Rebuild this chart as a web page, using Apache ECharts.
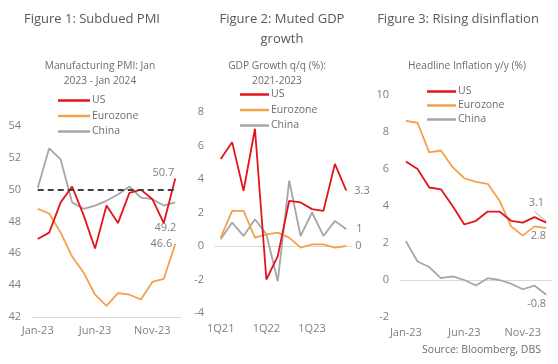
<!DOCTYPE html>
<html><head><meta charset="utf-8">
<script src="https://cdn.jsdelivr.net/npm/echarts@6/dist/echarts.min.js"></script>
<style>html,body{margin:0;padding:0;background:#fff}#c{width:558px;height:364px}</style>
</head><body><div id="c"></div>
<script>
// ---- Figure 1: Manufacturing PMI ----
const pmiMonths = ['Jan-23','Feb-23','Mar-23','Apr-23','May-23','Jun-23','Jul-23','Aug-23','Sep-23','Oct-23','Nov-23','Dec-23','Jan-24'];
const pmiUS = [46.9,47.3,49.2,50.2,48.4,46.3,49.0,47.9,49.8,50.0,49.4,47.9,50.7];
const pmiEZ = [48.8,48.5,47.3,45.8,44.8,43.4,42.7,43.5,43.4,43.1,44.2,44.4,46.6];
const pmiCN = [50.1,52.6,51.9,49.2,48.8,49.0,49.3,49.7,50.2,49.5,49.4,49.0,49.2];
const pmiThreshold = 50;

// ---- Figure 2: GDP growth q/q ----
const gdpQuarters = ['1Q21','2Q21','3Q21','4Q21','1Q22','2Q22','3Q22','4Q22','1Q23','2Q23','3Q23','4Q23'];
const gdpUS = [5.2,6.2,3.3,7.0,-2.0,-0.6,2.7,2.6,2.2,2.1,4.9,3.3];
const gdpEZ = [0.5,2.1,2.1,0.5,0.7,0.8,0.5,-0.1,0.1,0.1,-0.1,0];
const gdpCN = [0.4,1.4,0.6,1.6,0.7,-2.1,3.9,0.6,2.0,0.6,1.5,1.0];

// ---- Figure 3: Headline inflation y/y ----
const cpiMonths = ['Jan-23','Feb-23','Mar-23','Apr-23','May-23','Jun-23','Jul-23','Aug-23','Sep-23','Oct-23','Nov-23','Dec-23','Jan-24'];
const cpiUS = [6.4,6.0,5.0,4.9,4.0,3.0,3.2,3.7,3.7,3.2,3.1,3.4,3.1];
const cpiEZ = [8.6,8.5,6.9,7.0,6.1,5.5,5.3,5.2,4.3,2.9,2.4,2.9,2.8];
const cpiCN = [2.1,1.0,0.7,0.1,0.2,0.0,-0.3,0.1,0.0,-0.2,-0.5,-0.3,-0.8];

const legendNames = ['US','Eurozone','China'];

const FONT = 'Open Sans';
const RED = '#e3141b', ORANGE = '#f5a04a', GREY = '#a6a6a6';
const colors = {US: RED, Eurozone: ORANGE, China: GREY};
const LABEL_GREY = '#7f7f7f';

function lastLabel(arr, labelCfg) {
  return arr.map((v, i) => i === arr.length - 1
    ? {value: v, label: Object.assign({show: true, color: LABEL_GREY, fontSize: 11, fontFamily: FONT}, labelCfg)}
    : v);
}
function lineSeries(name, arr, idx, labelCfg, extra) {
  return Object.assign({
    type: 'line', name: name, xAxisIndex: idx, yAxisIndex: idx,
    data: lastLabel(arr, labelCfg), showSymbol: true, symbol: 'circle', symbolSize: 0.01,
    label: {show: false},
    lineStyle: {color: colors[name], width: 1.8}, itemStyle: {color: colors[name]},
    animation: false, silent: true
  }, extra || {});
}

const titleStyle = {fontFamily: FONT, fontSize: 13, color: '#595959', fontWeight: 'normal', lineHeight: 20};
const subStyle = {fontFamily: FONT, fontSize: 10.2, color: '#6d6d6d', fontWeight: 'normal', lineHeight: 15};

function yAx(idx, min, max) {
  return {type: 'value', gridIndex: idx, min: min, max: max, interval: 2,
    splitLine: {show: false}, axisLine: {show: false}, axisTick: {show: false},
    axisLabel: {color: LABEL_GREY, fontSize: 11, fontFamily: FONT, margin: 11}};
}
function legendAt(left, top, gap, w) {
  return {orient: 'vertical', left: left, top: top, data: legendNames, icon: 'rect',
    itemWidth: w, itemHeight: 2.5, itemGap: gap, padding: 0, selectedMode: false,
    textStyle: {fontFamily: FONT, fontSize: 10.5, color: '#6d6d6d', padding: [0,0,0,-3], lineHeight: 13}};
}

const lastIdx = cpiMonths.length - 1;

const option = {
  animation: false,
  title: [
    {text: 'Figure 1: Subdued PMI', left: 92, top: 9, textAlign: 'center', padding: 0, textStyle: titleStyle},
    {text: 'Figure 2: Muted GDP\ngrowth', left: 282, top: 9, textAlign: 'center', padding: 0, textStyle: titleStyle},
    {text: 'Figure 3: Rising disinflation', left: 458, top: 9, textAlign: 'center', padding: 0, textStyle: titleStyle},
    {text: 'Manufacturing PMI: Jan\n2023 - Jan 2024', left: 100, top: 59, textAlign: 'center', padding: 0, textStyle: subStyle},
    {text: 'GDP Growth q/q (%):\n2021-2023', left: 277, top: 59, textAlign: 'center', padding: 0, textStyle: subStyle},
    {text: 'Headline Inflation y/y (%)', left: 467, top: 59, textAlign: 'center', padding: 0, textStyle: subStyle},
    {text: 'Source: Bloomberg, DBS', right: 17, top: 345, padding: 0,
      textStyle: {fontFamily: FONT, fontSize: 10.5, color: '#6d6d6d', fontWeight: 'normal'}}
  ],
  legend: [legendAt(58, 94, 2.5, 32), legendAt(240, 88, 2.5, 29), legendAt(427, 85, 1, 29)],
  grid: [
    {left: 32, top: 126, width: 149, height: 191},
    {left: 215, top: 112, width: 137, height: 201},
    {left: 400, top: 95, width: 152, height: 222}
  ],
  xAxis: [
    {type: 'category', gridIndex: 0, data: pmiMonths, boundaryGap: true,
      axisLine: {lineStyle: {color: '#d9d9d9'}},
      axisTick: {interval: 4, inside: true, length: 3, lineStyle: {color: '#d9d9d9'}},
      axisLabel: {interval: 4, color: LABEL_GREY, fontSize: 11, fontFamily: FONT, margin: 8}},
    {type: 'category', gridIndex: 1, data: gdpQuarters, boundaryGap: true,
      axisLine: {show: false, onZero: false}, axisTick: {show: false},
      axisLabel: {interval: 3, color: LABEL_GREY, fontSize: 11, fontFamily: FONT, margin: 10}},
    {type: 'category', gridIndex: 2, data: cpiMonths, boundaryGap: true,
      axisLine: {show: false, onZero: false}, axisTick: {show: false},
      axisLabel: {interval: 4, color: LABEL_GREY, fontSize: 11, fontFamily: FONT, margin: 10}},
    {type: 'category', gridIndex: 1, data: gdpQuarters, boundaryGap: true, position: 'bottom',
      axisLine: {onZero: true, onZeroAxisIndex: 1, lineStyle: {color: '#d9d9d9'}},
      axisTick: {interval: 3, length: 3, lineStyle: {color: '#d9d9d9'}}, axisLabel: {show: false}},
    {type: 'category', gridIndex: 2, data: cpiMonths, boundaryGap: true, position: 'bottom',
      axisLine: {onZero: true, onZeroAxisIndex: 2, lineStyle: {color: '#d9d9d9'}},
      axisTick: {interval: 4, length: 3, lineStyle: {color: '#d9d9d9'}}, axisLabel: {show: false}}
  ],
  yAxis: [yAx(0, 42, 54), yAx(1, -4, 8), yAx(2, -2, 10)],
  series: [
    lineSeries('China', pmiCN, 0, {position: 'bottom', align: 'right', distance: 20, offset: [1, 0]}),
    lineSeries('Eurozone', pmiEZ, 0, {position: 'left', distance: 3}),
    lineSeries('US', pmiUS, 0, {position: 'left', distance: 1, offset: [0, -6]}, {
      markLine: {silent: true, symbol: 'none', label: {show: false},
        lineStyle: {color: '#404040', type: [6, 4], width: 2},
        data: [[{coord: [pmiMonths[0], pmiThreshold]}, {coord: [pmiMonths[pmiMonths.length - 1], pmiThreshold]}]]}
    }),
    lineSeries('China', gdpCN, 1, {position: 'right', distance: 10}),
    lineSeries('Eurozone', gdpEZ, 1, {position: 'right', distance: 9}),
    lineSeries('US', gdpUS, 1, {position: 'right', distance: 8}),
    lineSeries('China', cpiCN, 2, {position: 'bottom', align: 'right', distance: 4}),
    lineSeries('Eurozone', cpiEZ, 2, {position: 'bottom', align: 'right', distance: 2}),
    lineSeries('US', cpiUS, 2, {position: 'top', align: 'right', distance: 14, offset: [-2, 0]}, {
      markLine: {silent: true, symbol: 'none', label: {show: false},
        lineStyle: {color: '#a6a6a6', type: 'solid', width: 1},
        data: [[{coord: [lastIdx - 0.7, cpiUS[lastIdx] + 0.6]}, {coord: [lastIdx - 0.08, cpiUS[lastIdx] + 0.08]}]]}
    })
  ]
};
const chart = echarts.init(document.getElementById('c'), null, {renderer: 'canvas'});
chart.setOption(option);
</script></body></html>
